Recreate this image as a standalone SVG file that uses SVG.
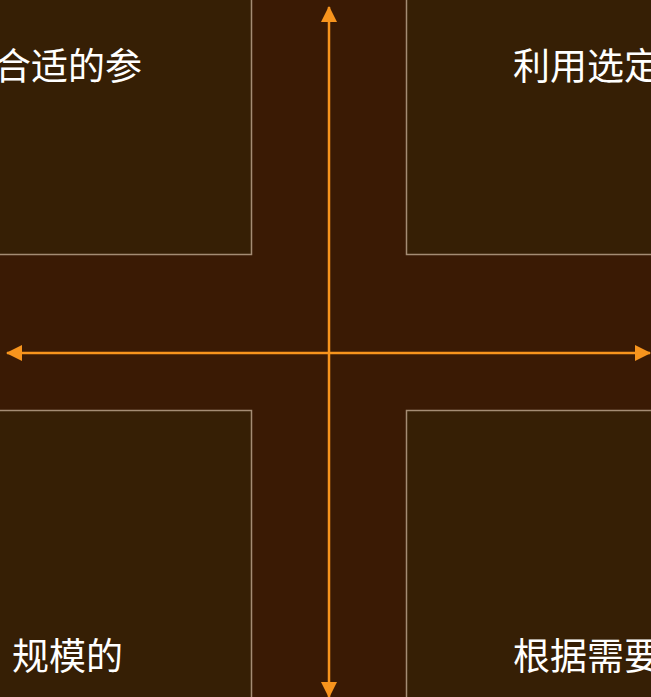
<svg xmlns="http://www.w3.org/2000/svg" width="651" height="697" viewBox="0 0 651 697">
<style>
.bg{fill:#3a1a04}
.box{fill:#361f05;stroke:#a48c74;stroke-width:1.5}
.lbl{font-family:"Noto Sans CJK SC","Noto Sans",sans-serif;font-size:37px;fill:#ffffff}
.ax{stroke:#f7941d;stroke-width:2.5;fill:none}
</style>
<defs>
<marker id="ah" viewBox="0 0 16 16" refX="15" refY="8" markerWidth="16" markerHeight="16" markerUnits="userSpaceOnUse" orient="auto">
<path d="M0,0 L16,8 L0,16 Z" fill="#f7941d"/>
</marker>
</defs>
<rect class="bg" x="0" y="0" width="651" height="697"/>
<g id="q1"><rect class="box" x="-10" y="-10" width="261.5" height="264.5"/><text class="lbl" x="142" y="80" text-anchor="end">合适的参</text></g>
<g id="q2"><rect class="box" x="406.5" y="-10" width="260" height="264.5"/><text class="lbl" x="513" y="80">利用选定</text></g>
<g id="q3"><rect class="box" x="-10" y="410.5" width="261.5" height="300"/><text class="lbl" x="123" y="670" text-anchor="end">规模的</text></g>
<g id="q4"><rect class="box" x="406.5" y="410.5" width="260" height="300"/><text class="lbl" x="513" y="670">根据需要</text></g>
<g id="connectors">
<line class="ax" x1="329" y1="353" x2="329" y2="7" marker-end="url(#ah)"/>
<line class="ax" x1="329" y1="353" x2="329" y2="697" marker-end="url(#ah)"/>
<line class="ax" x1="329" y1="353" x2="7" y2="353" marker-end="url(#ah)"/>
<line class="ax" x1="329" y1="353" x2="650" y2="353" marker-end="url(#ah)"/>
</g>
</svg>
